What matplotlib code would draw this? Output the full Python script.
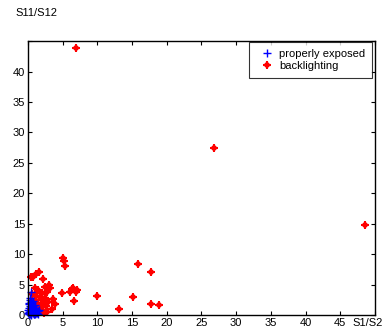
import matplotlib
matplotlib.use('Agg')
import matplotlib.pyplot as plt
from matplotlib.legend_handler import HandlerTuple

plt.rcParams['font.family'] = ['Liberation Sans', 'DejaVu Sans']
plt.rcParams['font.size'] = 8

# datos (S1/S2, S11/S12)
bl_x = [6.9, 26.8, 48.5, 15.9, 17.7, 15.2, 17.7, 18.9, 13.1, 10.0,
        5.0, 5.2, 5.4, 4.85, 6.05, 6.5, 6.9, 6.6, 7.1, 6.3,
        0.77, 1.10, 1.58, 2.21, 3.03, 3.17, 1.49, 1.01, 1.97, 1.73,
        1.01, 2.45, 2.93, 2.21, 1.49, 3.41, 1.97, 0.77, 2.69, 1.25,
        3.65, 0.6, 2.45, 0.4, 1.3, 1.8, 2.0, 2.6, 1.1, 0.9,
        3.9, 2.3, 1.6, 0.5, 2.8]
bl_y = [43.8, 27.4, 14.8, 8.3, 7.0, 3.0, 1.75, 1.7, 1.0, 3.1,
        9.3, 8.9, 8.1, 3.6, 3.8, 4.4, 3.8, 2.3, 4.1, 4.2,
        6.3, 6.7, 7.1, 5.9, 5.0, 4.4, 4.1, 4.4, 3.55, 3.0,
        2.46, 2.73, 2.19, 1.64, 1.09, 0.98, 0.82, 0.55, 3.8, 1.9,
        2.6, 3.4, 4.6, 6.2, 0.4, 1.3, 2.4, 1.5, 3.2, 1.4,
        1.8, 0.3, 0.6, 0.9, 0.5]

pe_x = [0.1, 0.2, 0.3, 0.4, 0.5, 0.6, 0.7, 0.8, 0.9, 1.0,
        0.15, 0.25, 0.35, 0.45, 0.55, 0.65, 0.75, 0.85, 1.1, 1.3,
        0.05, 0.2, 0.4, 0.6, 0.8, 1.0, 0.3, 0.5, 0.7, 0.1,
        0.5, 0.3, 0.9, 1.2, 0.4, 0.6, 0.2, 0.8, 1.4, 0.0,
        1.5, 1.2, 0.95, 1.6, 0.35, 0.7]
pe_y = [0.2, 0.5, 0.3, 0.8, 0.4, 1.0, 0.6, 0.2, 0.9, 0.5,
        1.2, 1.5, 0.1, 1.3, 1.7, 0.3, 1.4, 1.1, 0.7, 0.4,
        0.8, 2.0, 2.2, 1.9, 0.1, 1.6, 0.6, 0.15, 1.0, 1.8,
        3.8, 2.8, 0.3, 1.0, 0.05, 0.5, 0.1, 1.2, 0.2, 0.4,
        0.6, 0.3, 0.1, 0.9, 2.5, 2.3]

xticks = [0, 5, 10, 15, 20, 25, 30, 35, 40, 45, 50]
xlabels = ['0', '5', '10', '15', '20', '25', '30', '35', '40', '45', '']
yticks = [0, 5, 10, 15, 20, 25, 30, 35, 40, 45]
ylabels = ['0', '5', '10', '15', '20', '25', '30', '35', '40', '']

fig = plt.figure(figsize=(3.85, 3.29), dpi=100)
ax = fig.add_axes([0.0727, 0.0426, 0.9013, 0.8324])

# asterisco rojo: + grueso con x pequeña encima
h2, = ax.plot(bl_x, bl_y, '+', color='red', markersize=6, markeredgewidth=1.5,
              clip_on=False)
h3, = ax.plot(bl_x, bl_y, 'x', color='red', markersize=3.5, markeredgewidth=1.2,
              clip_on=False)
h1, = ax.plot(pe_x, pe_y, '+', color='blue', markersize=6, markeredgewidth=1.0,
              clip_on=False)

ax.set_xlim(0, 50)
ax.set_ylim(0, 45)
ax.set_xticks(xticks)
ax.set_xticklabels(xlabels)
ax.set_yticks(yticks)
ax.set_yticklabels(ylabels)
ax.tick_params(direction='in', top=True, right=True, length=3, width=0.8,
               pad=2, labelsize=8)
for s in ax.spines.values():
    s.set_linewidth(1.0)

ax.annotate('S1/S2', xy=(50, 0), xycoords=('data', 'axes fraction'),
            xytext=(6, -2.5), textcoords='offset points', ha='right', va='top',
            fontsize=8)
fig.text(15/385, 1 - 13/329, 'S11/S12', fontsize=8, va='center', ha='left')

leg = ax.legend([h1, (h2, h3)], ['properly exposed', 'backlighting'],
                handler_map={tuple: HandlerTuple(ndivide=1)},
                loc='upper right', bbox_to_anchor=(0.991, 0.996), fontsize=8,
                frameon=True, fancybox=False, edgecolor='black',
                handlelength=2.0, handletextpad=0.1, borderpad=0.6,
                labelspacing=0.2, borderaxespad=0.0)
leg.get_frame().set_linewidth(0.8)

fig.savefig('out.png', dpi=100)
